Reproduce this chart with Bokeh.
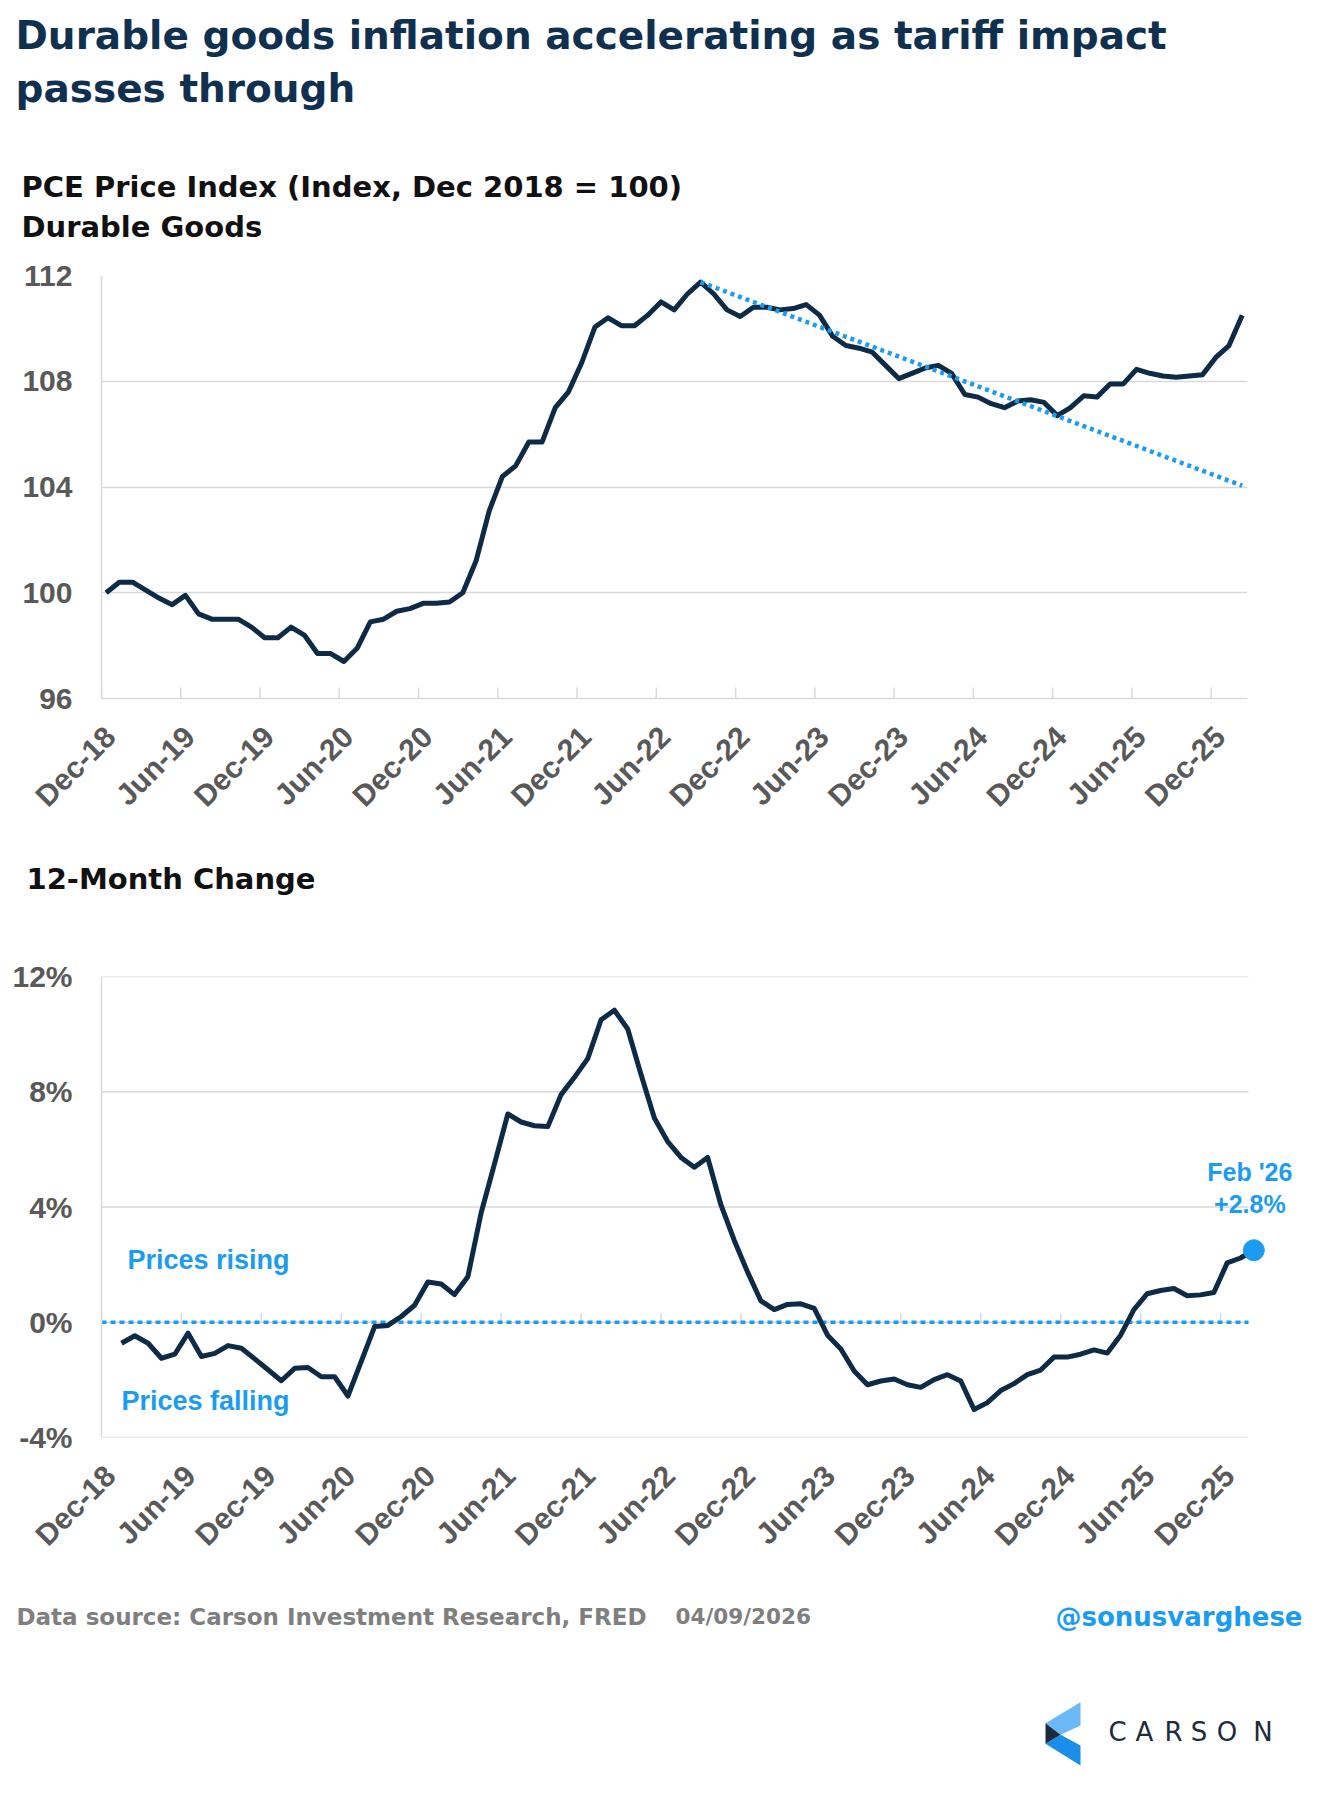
import math
from bokeh.plotting import figure
from bokeh.models import Range1d, FixedTicker, Label
from bokeh.layouts import column
from bokeh.embed import file_html
from bokeh.resources import INLINE

# ---------------- data ----------------
months_idx = list(range(0, 87))          # 0 = Dec-18 ... 86 = Feb-26
pce_index = [100.0, 100.4, 100.4, 100.1, 99.8, 99.55, 99.9, 99.2, 99.0, 99.0,
             99.0, 98.7, 98.3, 98.3, 98.7, 98.4, 97.7, 97.7, 97.4, 97.9,
             98.9, 99.0, 99.3, 99.4, 99.6, 99.6, 99.65, 100.0, 101.2, 103.1,
             104.4, 104.8, 105.7, 105.7, 107.0, 107.6, 108.7, 110.05, 110.4, 110.1,
             110.1, 110.5, 111.0, 110.7, 111.3, 111.75, 111.3, 110.7, 110.45, 110.8,
             110.8, 110.7, 110.75, 110.9, 110.5, 109.7, 109.35, 109.25, 109.1, 108.6,
             108.1, 108.3, 108.5, 108.6, 108.3, 107.5, 107.4, 107.15, 107.0, 107.25,
             107.3, 107.2, 106.7, 107.0, 107.45, 107.4, 107.9, 107.9, 108.45, 108.3,
             108.2, 108.15, 108.2, 108.25, 108.9, 109.35, 110.5]

trend_months = [45, 86]
trend_values = [111.75, 104.05]

chg_months = list(range(1, 87))          # 1 = Jan-19 ... 86 = Feb-26
yoy_change = [-0.73, -0.47, -0.73, -1.25, -1.11, -0.38, -1.19, -1.08, -0.81, -0.90,
              -1.27, -1.65, -2.03, -1.60, -1.57, -1.89, -1.89, -2.56, -1.36, -0.15,
              -0.11, 0.20, 0.59, 1.40, 1.33, 0.96, 1.58, 3.80, 5.50, 7.23,
              6.95, 6.82, 6.79, 7.90, 8.50, 9.15, 10.50, 10.83, 10.18, 8.60,
              7.09, 6.27, 5.72, 5.38, 5.72, 4.07, 2.84, 1.74, 0.74, 0.44,
              0.62, 0.64, 0.48, -0.45, -0.93, -1.69, -2.17, -2.04, -1.97, -2.17,
              -2.26, -1.99, -1.82, -2.04, -3.03, -2.79, -2.37, -2.13, -1.82, -1.66,
              -1.21, -1.21, -1.11, -0.96, -1.07, -0.45, 0.44, 0.99, 1.10, 1.17,
              0.92, 0.95, 1.03, 2.06, 2.23, 2.50]

x_tick_labels = ["Dec-18", "Jun-19", "Dec-19", "Jun-20", "Dec-20", "Jun-21", "Dec-21",
                 "Jun-22", "Dec-22", "Jun-23", "Dec-23", "Jun-24", "Dec-24", "Jun-25", "Dec-25"]
top_x_ticks = [-0.35 + 6 * k for k in range(len(x_tick_labels))]
bot_x_ticks = [-0.5 + 6 * k for k in range(len(x_tick_labels))]
LABEL_SHIFT = 0.65                        # labels sit a little right of the tick marks
idx_ticks = [96, 100, 104, 108, 112]
chg_ticks = [-4, 0, 4, 8, 12]
chg_tick_labels = ["-4%", "0%", "4%", "8%", "12%"]
last_point_label = ["Feb '26", "+2.8%"]

# ---------------- style ----------------
NAVY = "#0d2b47"
BLUE = "#1c9cf0"
GRID = "#d9d9d9"
TICK_TXT = "#595959"
TITLE_C = "#10304f"
WIDE = "DejaVu Sans"
ARIAL = "Liberation Sans"

W = 1313
M = 0          # figures start at the picture's top-left corner
DY = 13        # measured drop of Label text below its anchor
# page rows (top, bottom) in picture pixels
R_HEAD = (0, 255)
R_A = (255, 840)
R_MID = (840, 950)
R_B = (950, 1570)
R_FOOT = (1570, 1794)
# chart frames in picture pixels
A_FL, A_FR, A_FT, A_FB = 101, 1247, 275, 698
B_FL, B_FR, B_FT, B_FB = 101, 1305, 976, 1437
XA, YA = (-0.35, 86.4), (96, 112)
B_X0, B_XEND, B_PX_END = -0.5, 85.6, 1248      # data extent of the visible grid
XB = (B_X0, B_XEND + (B_FR - B_PX_END) * (B_XEND - B_X0) / (B_PX_END - B_FL))
YB = (-4, 12)


def canvas(row):
    h = row[1] - row[0]
    p = figure(width=W, height=h, x_range=Range1d(0, W), y_range=Range1d(h, 0),
               output_backend="svg", toolbar_location=None, title=None,
               x_axis_type=None, y_axis_type=None, frame_align=False,
               min_border_left=0, min_border_right=0, min_border_top=0, min_border_bottom=0)
    p.outline_line_color = None
    p.grid.visible = False
    p.background_fill_color = "white"
    p.border_fill_color = "white"
    return p


def ctext(p, row, px, py, text, font, size, color, align="left", style="bold"):
    p.add_layout(Label(x=px - M, y=py - row[0] - DY, text=text, text_font=font,
                       text_font_size=size, text_font_style=style, text_color=color,
                       text_align=align, text_baseline="alphabetic"))


def chart(row, xr, yr, fl, fr, ft, fb):
    h = row[1] - row[0]
    p = figure(width=W, height=h, x_range=Range1d(*xr), y_range=Range1d(*yr),
               output_backend="svg", toolbar_location=None, title=None, frame_align=False,
               min_border_left=fl - M, min_border_right=W - (fr - M),
               min_border_top=ft - row[0], min_border_bottom=h - (fb - row[0]))
    p.outline_line_color = None
    p.background_fill_color = "white"
    p.border_fill_color = "white"
    p.xgrid.visible = False
    p.ygrid.grid_line_color = GRID
    p.ygrid.grid_line_width = 1.5
    for ax in (p.xaxis[0], p.yaxis[0]):
        ax.axis_line_color = GRID
        ax.axis_line_width = 1.5
        ax.minor_tick_line_color = None
        ax.major_tick_line_color = None
        ax.major_tick_in = 0
        ax.major_tick_out = 0
        ax.major_label_text_font = ARIAL
        ax.major_label_text_font_size = "30px"
        ax.major_label_text_font_style = "bold"
        ax.major_label_text_color = TICK_TXT
    p.yaxis.major_label_standoff = 29
    p.xaxis.major_label_orientation = math.pi / 4
    p.xaxis.major_label_standoff = 33
    return p


def set_xlabels(p, ticks):
    pos = [t + LABEL_SHIFT for t in ticks]
    p.xaxis.ticker = FixedTicker(ticks=pos)
    p.xaxis.major_label_overrides = {t: s for t, s in zip(pos, x_tick_labels)}


# ---------------- header ----------------
pH = canvas(R_HEAD)
ctext(pH, R_HEAD, 15, 48, "Durable goods inflation accelerating as tariff impact", WIDE, "39px", TITLE_C)
ctext(pH, R_HEAD, 15, 101, "passes through", WIDE, "39px", TITLE_C)
ctext(pH, R_HEAD, 21, 199, "PCE Price Index (Index, Dec 2018 = 100)", WIDE, "29px", "#111111")
ctext(pH, R_HEAD, 21, 239, "Durable Goods", WIDE, "29px", "#111111")

# ---------------- top chart ----------------
pA = chart(R_A, XA, YA, A_FL, A_FR, A_FT, A_FB)
pA.yaxis.ticker = FixedTicker(ticks=idx_ticks)
pA.ygrid.ticker = FixedTicker(ticks=idx_ticks)
set_xlabels(pA, top_x_ticks)
tick_h_a = 11 * (YA[1] - YA[0]) / (A_FB - A_FT)
pA.segment(x0=top_x_ticks, y0=[YA[0]] * len(top_x_ticks), x1=top_x_ticks,
           y1=[YA[0] + tick_h_a] * len(top_x_ticks), line_color=GRID, line_width=1.5)
pA.line(months_idx, pce_index, line_color=NAVY, line_width=5, line_join="round")
pA.line(trend_months, trend_values, line_color=BLUE, line_width=4.5, line_dash="4 4")

# ---------------- mid heading ----------------
pM = canvas(R_MID)
ctext(pM, R_MID, 26, 891, "12-Month Change", WIDE, "29px", "#111111")

# ---------------- bottom chart ----------------
pB = chart(R_B, XB, YB, B_FL, B_FR, B_FT, B_FB)
pB.ygrid.visible = False
pB.xaxis.axis_line_color = None
pB.yaxis.ticker = FixedTicker(ticks=chg_ticks)
pB.yaxis.major_label_overrides = {t: s for t, s in zip(chg_ticks, chg_tick_labels)}
set_xlabels(pB, bot_x_ticks)
# horizontal gridlines stop at the last month, the frame is wider for the end label
pB.segment(x0=[B_X0] * len(chg_ticks), y0=chg_ticks, x1=[B_XEND] * len(chg_ticks),
           y1=chg_ticks, line_color=GRID, line_width=1.5)
# the category axis crosses at 0%: small tick marks there
tick_h_b = 9 * (YB[1] - YB[0]) / (B_FB - B_FT)
pB.segment(x0=bot_x_ticks, y0=[0] * len(bot_x_ticks), x1=bot_x_ticks,
           y1=[tick_h_b] * len(bot_x_ticks), line_color=GRID, line_width=1.5)
pB.line([B_X0, B_XEND], [0, 0], line_color=BLUE, line_width=3.5, line_dash="5 4")
pB.line(chg_months, yoy_change, line_color=NAVY, line_width=5, line_join="round")
pB.scatter([chg_months[-1]], [yoy_change[-1]], size=21, color=BLUE)

for i, t in enumerate(last_point_label):
    pB.add_layout(Label(x=chg_months[-1], y=yoy_change[-1], x_offset=-4,
                        y_offset=65 - 32 * i + DY, text=t, text_font=ARIAL,
                        text_font_size="25px", text_font_style="bold", text_color=BLUE,
                        text_align="center", text_baseline="alphabetic"))


def bdata(px, py):
    x = XB[0] + (px - B_FL) * (XB[1] - XB[0]) / (B_FR - B_FL)
    y = YB[0] + (B_FB - py) * (YB[1] - YB[0]) / (B_FB - B_FT)
    return x, y


for txt, py in (("Prices rising", 1272), ("Prices falling", 1413)):
    x, y = bdata(289, py - DY)
    pB.add_layout(Label(x=x, y=y, text=txt, text_font=ARIAL, text_font_size="27px",
                        text_font_style="bold", text_color=BLUE, text_align="right",
                        text_baseline="alphabetic"))

# ---------------- footer ----------------
pF = canvas(R_FOOT)
ctext(pF, R_FOOT, 16, 1629, "Data source: Carson Investment Research, FRED", WIDE, "23px", "#7f7f7f")
ctext(pF, R_FOOT, 675, 1629, "04/09/2026", WIDE, "21.5px", "#7f7f7f")
ctext(pF, R_FOOT, 1302, 1629, "@sonusvarghese", WIDE, "26px", BLUE, align="right")

logo_shapes = [
    ([(1045, 1722.7), (1080, 1701.7), (1080, 1725), (1060, 1734.3)], "#6ab8f5"),
    ([(1045, 1743.3), (1060, 1734.3), (1080, 1745), (1080, 1765)], "#1a8ee8"),
    ([(1045, 1722.7), (1060, 1734.3), (1045, 1743.3)], "#1b2b3d"),
]
pF.patches([[px - M for px, _ in s] for s, _ in logo_shapes],
           [[py - R_FOOT[0] for _, py in s] for s, _ in logo_shapes],
           fill_color=[c for _, c in logo_shapes], line_color=None)
for ch, cx in zip("CARSON", [1117, 1144, 1173, 1198.5, 1226.5, 1262.5]):
    ctext(pF, R_FOOT, cx, 1744, ch, WIDE, "26px", "#1d2b3a", align="center", style="normal")

layout = column(pH, pA, pM, pB, pF)
open("out.html", "w").write(file_html(layout, INLINE))
